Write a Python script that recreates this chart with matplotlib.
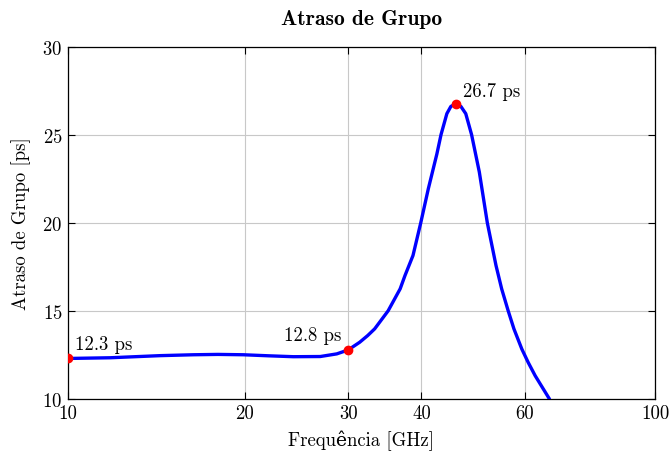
import numpy as np
import matplotlib
matplotlib.use("Agg")
import matplotlib.pyplot as plt
from matplotlib.ticker import NullLocator, FixedLocator, FixedFormatter

plt.rcParams['font.family'] = ['cmr10', 'DejaVu Serif']
plt.rcParams['mathtext.fontset'] = 'cm'
plt.rcParams['axes.formatter.use_mathtext'] = True

# group delay curve (GHz, ps)
freq = [10, 11.8, 14.35, 16.35, 18, 19.9, 22, 24.2, 26.9, 28.7, 30, 31.4,
        32.4, 33.3, 35.1, 36.8, 37.5, 38.7, 39.9, 41.1, 42.5, 43.2, 44.2,
        44.9, 45.8, 46.7, 47.6, 48.7, 50.2, 51.8, 53.6, 54.8, 56.2, 57.5,
        59.3, 60.8, 62.5, 66.1]
delay = [12.30, 12.34, 12.46, 12.51, 12.53, 12.51, 12.45, 12.40, 12.41,
         12.56, 12.78, 13.22, 13.6, 13.98, 15.0, 16.25, 17.0, 18.14, 20.0,
         21.93, 23.9, 25.0, 26.19, 26.6, 26.75, 26.6, 26.19, 25.0, 22.88,
         20.0, 17.57, 16.25, 15.02, 13.98, 12.84, 12.08, 11.32, 10.0]

# marked points
mark_f = [10, 30, 45.8]
mark_d = [12.3, 12.8, 26.75]
mark_txt = ['12.3 ps', '12.8 ps', '26.7 ps']

xticks = [10, 20, 30, 40, 60, 100]

fig = plt.figure(figsize=(6.7, 4.52), dpi=100)
ax = fig.add_axes([68/670, 52/452, 587/670, 352.5/452])

ax.plot(freq, delay, color='blue', lw=2.4, zorder=3,
        solid_joinstyle='round', solid_capstyle='round')
ax.plot(mark_f, mark_d, 'o', color='red', ms=6, zorder=4)

ax.annotate(mark_txt[0], (mark_f[0], mark_d[0]), xytext=(5, 4),
            textcoords='offset points', fontsize=13.5, ha='left', va='bottom')
ax.annotate(mark_txt[1], (mark_f[1], mark_d[1]), xytext=(-5, 4),
            textcoords='offset points', fontsize=13.5, ha='right', va='bottom')
ax.annotate(mark_txt[2], (mark_f[2], mark_d[2]), xytext=(5, 3),
            textcoords='offset points', fontsize=13.5, ha='left', va='bottom')

ax.set_xscale('log')
ax.set_xlim(10, 100)
ax.set_ylim(10, 30)
ax.xaxis.set_major_locator(FixedLocator(xticks))
ax.xaxis.set_major_formatter(FixedFormatter([str(t) for t in xticks]))
ax.xaxis.set_minor_locator(NullLocator())
ax.set_yticks([10, 15, 20, 25, 30])

ax.grid(True, color='#c8c8c8', lw=0.8)
ax.set_axisbelow(True)
ax.tick_params(direction='in', length=5, width=0.8, top=True, right=True,
               labelsize=13.5, pad=4)
for s in ax.spines.values():
    s.set_linewidth(0.9)

ax.set_xlabel('Frequência [GHz]', fontsize=13.5, labelpad=5)
ax.set_ylabel('Atraso de Grupo [ps]', fontsize=13.5, labelpad=8)
ax.set_title('Atraso de Grupo', fontsize=15.5, family=['cmb10', 'DejaVu Serif'],
             pad=16)

fig.savefig('out.png', dpi=100)
